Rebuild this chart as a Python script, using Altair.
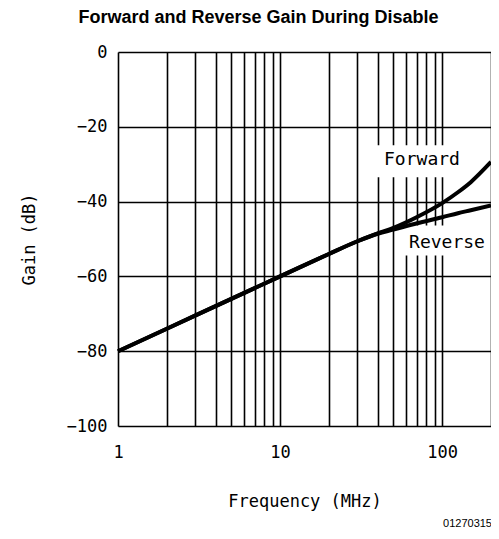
import altair as alt
import pandas as pd

freq = [1, 2, 5, 10, 20, 30, 40, 50, 70, 100, 125, 150, 200]
forward = [-80, -74, -66, -60, -54, -50.6, -48.5, -47.0, -44.1, -40.4, -37.5, -34.8, -29.4]
reverse = [-80, -74, -66, -60, -54, -50.6, -48.6, -47.5, -45.8, -44.2, -43.1, -42.3, -41.0]

grid_x = [1, 2, 3, 4, 5, 6, 7, 8, 9, 10, 20, 30, 40, 50, 60, 70, 80, 90, 100, 200]
grid_y = list(range(-100, 1, 10))

label_text = ["Forward", "Reverse"]
label_f = [75, 107]
label_g = [-29, -51.2]
box_f1 = [38.1, 58.4]
box_f2 = [150.7, 191.9]
box_g1 = [-24.9, -46.4]
box_g2 = [-33.5, -54.4]

rows = []
for f, a, b in zip(freq, forward, reverse):
    rows.append({"f": f, "g": a, "s": "Forward"})
    rows.append({"f": f, "g": b, "s": "Reverse"})
df = pd.DataFrame(rows)
lab = pd.DataFrame({"t": label_text, "f": label_f, "g": label_g,
                    "f1": box_f1, "f2": box_f2, "g1": box_g1, "g2": box_g2})

MONO = "DejaVu Sans Mono"

xs = alt.Scale(type="log", domain=[1, 200], nice=False)
ys = alt.Scale(domain=[-100, 0], nice=False)

xaxis = alt.Axis(values=grid_x, grid=True, gridColor="black", gridWidth=1.6, gridOpacity=1,
                 ticks=False, domain=False,
                 labelExpr="(datum.value==1||datum.value==10||datum.value==100) ? datum.label : ''",
                 labelFont=MONO, labelFontSize=17, labelColor="black", labelPadding=18,
                 labelFlush=False, labelOverlap=False,
                 title="Frequency (MHz)", titleFont=MONO, titleFontSize=17,
                 titleFontWeight="normal", titleColor="black", titlePadding=33)
yaxis = alt.Axis(values=grid_y, grid=True, gridColor="black", gridWidth=1.6, gridOpacity=1,
                 ticks=False, domain=False,
                 labelExpr="(datum.value % 20 == 0) ? datum.label : ''",
                 labelFont=MONO, labelFontSize=17, labelColor="black", labelPadding=11,
                 labelFlush=False, labelOverlap=False,
                 title="Gain (dB)", titleFont=MONO, titleFontSize=17,
                 titleFontWeight="normal", titleColor="black", titlePadding=28)

lines = alt.Chart(df).mark_line(color="black", strokeWidth=4, interpolate="monotone").encode(
    x=alt.X("f:Q", scale=xs, axis=xaxis),
    y=alt.Y("g:Q", scale=ys, axis=yaxis),
    detail="s:N",
)

boxes = alt.Chart(lab).mark_rect(color="white").encode(
    x=alt.X("f1:Q", scale=xs), x2="f2:Q",
    y=alt.Y("g1:Q", scale=ys), y2="g2:Q",
)

texts = alt.Chart(lab).mark_text(font=MONO, fontSize=18, color="black").encode(
    x=alt.X("f:Q", scale=xs), y=alt.Y("g:Q", scale=ys), text="t:N",
)

code = alt.Chart(pd.DataFrame({"t": ["01270315"]})).mark_text(
    font="Liberation Sans", fontSize=11, color="black", align="right", baseline="middle"
).encode(x=alt.value(374), y=alt.value(472), text="t:N")

chart = alt.layer(boxes, lines, texts, code).properties(
    width=373, height=374,
    title=alt.TitleParams("Forward and Reverse Gain During Disable", font="Liberation Sans",
                          fontSize=18, fontWeight="bold", color="black",
                          anchor="middle", dx=-46, offset=16),
    padding={"left": 110, "top": 44, "right": 0, "bottom": 105},
    autosize=alt.AutoSizeParams(type="none"),
).configure_view(stroke="black", strokeWidth=2.6).configure(background="white")

chart.save("out.html", embed_options={"renderer": "svg", "actions": False})
